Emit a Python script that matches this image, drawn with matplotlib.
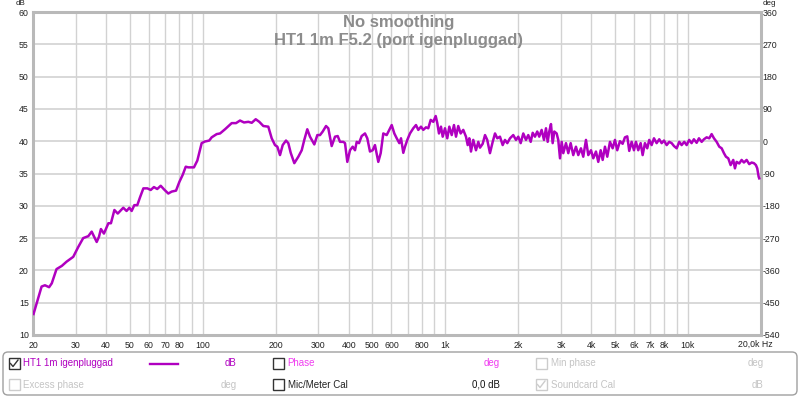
import matplotlib
matplotlib.use("Agg")
import matplotlib.pyplot as plt
from matplotlib.patches import FancyBboxPatch, Rectangle
from matplotlib.lines import Line2D
from matplotlib.transforms import IdentityTransform, blended_transform_factory

plt.rcParams['font.family'] = ['Liberation Sans', 'DejaVu Sans']

# ---------------- data ----------------
title_lines = ["No smoothing", "HT1 1m F5.2 (port igenpluggad)"]
series_name = "HT1 1m igenpluggad"

freq_hz = [
    20.1, 20.7, 21.7, 22.4, 23.3, 23.9, 25.0, 26.3, 27.5, 29.3, 30.7, 32.2, 33.8, 34.9,
    36.6, 37.4, 38.1, 39.2, 40.9, 41.9, 43.3, 44.7, 47.1, 48.6, 49.9, 51.0, 52.3, 53.8,
    55.2, 57.0, 59.2, 61.1, 63.0, 65.0, 67.2, 69.3, 72.2, 74.6, 77.7, 80.2, 82.8, 85.2,
    87.3, 92.1, 95.1, 99.1, 102.2, 106.5, 109.0, 114.3, 118.0, 123.7, 131.8, 137.3, 142.6,
    148.1, 154.3, 159.4, 165.5, 171.2, 177.9, 186.5, 192.6, 198.7, 203.2, 208.4, 213.8,
    220.6, 225.5, 230.7, 238.7, 248.0, 256.1, 262.4, 270.0, 277.0, 288.6, 297.0, 304.7,
    312.6, 322.5, 329.6, 340.3, 351.2, 360.3, 368.3, 380.0, 386.2, 394.7, 404.9, 415.4,
    424.6, 431.5, 441.0, 452.4, 466.8, 477.1, 489.4, 502.1, 513.1, 529.6, 541.8, 555.3,
    573.5, 587.9, 601.5, 616.6, 630.8, 646.5, 657.0, 671.4, 682.3, 697.3, 715.4, 738.1,
    757.3, 774.1, 794.1, 811.7, 832.7, 851.1, 870.7, 892.6, 913.0, 926.9, 941.9, 960.1,
    975.7, 997.2, 1019, 1039, 1063, 1086, 1107, 1131, 1157, 1186, 1217, 1237, 1256, 1276,
    1304, 1338, 1368, 1390, 1426, 1458, 1489, 1528, 1568, 1603, 1638, 1680, 1724, 1762,
    1801, 1848, 1906, 1956, 1999, 2045, 2096, 2150, 2198, 2249, 2292, 2342, 2393, 2439,
    2495, 2551, 2600, 2642, 2682, 2726, 2770, 2813, 2877, 2921, 2970, 3018, 3064, 3143,
    3213, 3286, 3368, 3455, 3532, 3623, 3703, 3800, 3884, 3985, 4073, 4178, 4270, 4369,
    4452, 4550, 4651, 4771, 4894, 5003, 5112, 5245, 5381, 5500, 5622, 5729, 5861, 5991,
    6105, 6240, 6384, 6506, 6649, 6796, 6926, 7086, 7243, 7430, 7616, 7792, 7965, 8171,
    8375, 8568, 8758, 8985, 9209, 9419, 9656, 9877, 10120, 10350, 10580, 10860, 11100,
    11390, 11640, 11940, 12240, 12520, 12800, 13130, 13460, 13770, 14070, 14340, 14660,
    14990, 15370, 15620, 15870, 16270, 16640, 17010, 17450, 17890, 18300, 18700, 19060,
    19300, 19560, 19670,
]
spl_db = [
    13.25, 14.9, 17.5, 17.7, 17.4, 18.0, 20.2, 20.7, 21.35, 22.1, 23.6, 25.0, 25.3, 26.0,
    24.4, 25.2, 26.4, 25.7, 27.3, 27.3, 29.35, 28.8, 29.7, 29.2, 29.7, 29.2, 30.1, 30.1,
    31.3, 32.7, 32.7, 32.45, 32.9, 32.6, 33.1, 32.55, 31.9, 32.2, 32.35, 33.7, 34.8, 36.05,
    35.95, 35.95, 37.0, 39.7, 39.95, 40.1, 40.6, 41.1, 41.2, 41.85, 42.8, 42.8, 43.2,
    42.9, 43.0, 42.85, 43.4, 43.0, 42.35, 42.25, 40.45, 39.4, 39.15, 37.85, 39.4,
    40.1, 39.7, 38.2, 36.6, 37.6, 38.6, 40.2, 41.85, 40.7, 39.5, 40.95, 40.95,
    41.5, 42.35, 42.0, 39.25, 40.7, 40.8, 39.9, 39.9, 39.7, 36.8, 38.6, 39.15,
    38.6, 39.9, 39.7, 40.8, 41.2, 40.45, 38.4, 38.6, 39.4, 36.8, 38.15, 41.2,
    40.95, 41.75, 42.5, 41.2, 40.45, 39.7, 40.45, 38.2, 39.15, 40.2, 41.2, 42.0,
    42.5, 41.75, 42.25, 41.75, 42.15, 42.0, 43.3, 43.0, 43.9, 42.8, 41.2, 42.25,
    40.7, 42.0, 40.45, 42.25, 40.95, 42.5, 40.7, 42.35, 41.2, 41.75, 40.7, 39.4, 40.45, 38.4,
    40.2, 38.6, 39.9, 39.0, 39.6, 40.95, 40.2, 38.15, 39.9, 41.2, 40.45, 40.7, 39.4, 40.2,
    39.7, 40.45, 40.95, 40.2, 40.7, 39.7, 41.2, 40.2, 40.95, 39.9, 41.3, 40.7, 41.5, 40.7,
    41.75, 40.2, 42.0, 39.9, 41.5, 42.65, 39.7, 41.5, 41.2, 40.2, 37.35, 39.9, 38.15, 39.7,
    38.15, 39.7, 37.85, 39.15, 37.85, 38.9, 37.6, 40.2, 37.85, 38.6, 37.35, 38.4, 36.8, 38.6,
    37.1, 39.15, 37.6, 39.9, 38.9, 40.2, 38.6, 40.0, 39.6, 40.6, 40.75, 38.5, 39.9, 38.6,
    39.9, 38.6, 39.7, 37.85, 39.7, 38.9, 40.2, 39.4, 40.45, 39.7, 40.3, 39.7, 40.1, 39.4,
    39.9, 39.7, 39.25, 38.9, 39.9, 39.4, 39.9, 39.4, 40.2, 39.7, 40.3, 39.75, 40.45,
    39.9, 40.3, 40.6, 40.45, 41.1, 40.45, 39.9, 39.15, 38.9, 38.15, 37.6, 37.35,
    36.3, 37.1, 35.8, 36.8, 36.55, 37.1, 36.7, 37.1, 36.45, 36.7, 36.6, 36.3,
    35.8, 34.5, 34.25,
]

x_ticks = [20, 30, 40, 50, 60, 70, 80, 100, 200, 300, 400, 500, 600, 800,
           1000, 2000, 3000, 4000, 5000, 6000, 7000, 8000, 10000]
x_tick_labels = ["20", "30", "40", "50", "60", "70", "80", "100", "200", "300", "400",
                 "500", "600", "800", "1k", "2k", "3k", "4k", "5k", "6k", "7k", "8k", "10k"]
x_grid = [20, 30, 40, 50, 60, 70, 80, 90, 100, 200, 300, 400, 500, 600, 700, 800, 900,
          1000, 2000, 3000, 4000, 5000, 6000, 7000, 8000, 9000, 10000, 20000]
x_end_label = "20,0k Hz"
y_ticks = [10, 15, 20, 25, 30, 35, 40, 45, 50, 55, 60]
deg_ticks = [-540, -450, -360, -270, -180, -90, 0, 90, 180, 270, 360]

# ---------------- figure ----------------
W, H = 800, 397
fig = plt.figure(figsize=(W / 100, H / 100), dpi=100)
fig.patch.set_facecolor('white')

def fx(px):
    return px / W

def fy(py):
    return 1 - py / H

L, R, T, B = 33, 761, 12, 335
ax = fig.add_axes([fx(L), fy(B), (R - L) / W, (B - T) / H])
ax.set_xscale('log')
ax.set_xlim(20, 20000)
ax.set_ylim(10, 60)

grid_c = '#d2d2d2'
for g in x_grid:
    ax.axvline(g, color=grid_c, lw=1.0, zorder=1)
for g in y_ticks:
    ax.axhline(g, color=grid_c, lw=1.2, zorder=1)

curve_c = '#b000c0'
ax.plot(freq_hz, spl_db, color=curve_c, lw=1.8, zorder=3, solid_joinstyle='round')

for s in ax.spines.values():
    s.set_color('#b9b9b9')
    s.set_linewidth(2.2)

ax.set_xticks(x_ticks)
ax.set_xticklabels(x_tick_labels)
ax.xaxis.set_minor_locator(matplotlib.ticker.NullLocator())
ax.set_yticks(y_ticks)
ax.set_yticklabels([str(v) for v in y_ticks])
ax.tick_params(axis='both', length=0, labelsize=6.3, colors='#222222')
ax.tick_params(axis='x', pad=4)
ax.tick_params(axis='y', pad=3)

ax2 = ax.twinx()
ax2.set_ylim(-540, 360)
ax2.set_yticks(deg_ticks)
ax2.set_yticklabels([str(v) for v in deg_ticks])
ax2.tick_params(axis='y', length=0, labelsize=6.3, colors='#222222', pad=1)
for s in ax2.spines.values():
    s.set_visible(False)

trans_end = blended_transform_factory(ax.transData, ax.transAxes)
ax.text(20000 * 10 ** (-23 / 242.7), -0.03, x_end_label, transform=trans_end,
        ha='left', va='center', fontsize=6.3, color='#222222')

fig.text(fx(21), fy(3.5), "dB", fontsize=5.8, ha='center', va='center', color='#222222')
fig.text(fx(769), fy(3.5), "deg", fontsize=5.8, ha='center', va='center', color='#222222')

# titles
fig.text(fx(399), fy(22), title_lines[0], fontsize=12, fontweight='bold',
         color='#8c8c8c', ha='center', va='center')
fig.text(fx(399), fy(41), title_lines[1], fontsize=12, fontweight='bold',
         color='#8c8c8c', ha='center', va='center')

# ---------------- legend panel ----------------
ident = IdentityTransform()
def D(px, py):
    return px, H - py

box = FancyBboxPatch(D(3, 395), 794, 43, boxstyle="round,pad=0,rounding_size=5",
                     transform=ident, facecolor='white', edgecolor='#a0a0a0', lw=1.0)
fig.add_artist(box)

def checkbox(px, py, enabled=True, checked=False):
    ec = '#333333' if enabled else '#cccccc'
    r = Rectangle(D(px, py + 11), 11, 11, transform=ident, facecolor='white',
                  edgecolor=ec, lw=1.0)
    fig.add_artist(r)
    if checked:
        xs = [px + 2, px + 4.5, px + 9.5]
        ys = [H - (py + 5.5), H - (py + 8.5), H - (py + 2)]
        fig.add_artist(Line2D(xs, ys, transform=ident, color=ec, lw=1.0))

row1, row2 = 363.5, 384.5
checkbox(8.5, row1 - 5.5, True, True)
fig.text(fx(23), fy(row1), series_name, fontsize=7, color=curve_c, va='center')
fig.add_artist(Line2D([150, 178], [H - row1, H - row1], transform=ident, color=curve_c, lw=1.7))
fig.text(fx(236.5), fy(row1), "dB", fontsize=7, color=curve_c, va='center', ha='right')
checkbox(272.5, row1 - 5.5, True, False)
fig.text(fx(287.5), fy(row1), "Phase", fontsize=7, color='#f03cf0', va='center')
fig.text(fx(499.5), fy(row1), "deg", fontsize=7, color='#f03cf0', va='center', ha='right')
checkbox(535.5, row1 - 5.5, False, False)
fig.text(fx(551), fy(row1), "Min phase", fontsize=7, color='#c4c4c4', va='center')
fig.text(fx(763.5), fy(row1), "deg", fontsize=7, color='#c4c4c4', va='center', ha='right')

checkbox(8.5, row2 - 5.5, False, False)
fig.text(fx(23), fy(row2), "Excess phase", fontsize=7, color='#c4c4c4', va='center')
fig.text(fx(236.5), fy(row2), "deg", fontsize=7, color='#c4c4c4', va='center', ha='right')
checkbox(272.5, row2 - 5.5, True, False)
fig.text(fx(287.5), fy(row2), "Mic/Meter Cal", fontsize=7, color='#222222', va='center')
fig.text(fx(499.5), fy(row2), "0,0 dB", fontsize=7, color='#111111', va='center', ha='right')
checkbox(535.5, row2 - 5.5, False, True)
fig.text(fx(551), fy(row2), "Soundcard Cal", fontsize=7, color='#c4c4c4', va='center')
fig.text(fx(763.5), fy(row2), "dB", fontsize=7, color='#c4c4c4', va='center', ha='right')

fig.savefig("out.png", dpi=100, facecolor='white')
